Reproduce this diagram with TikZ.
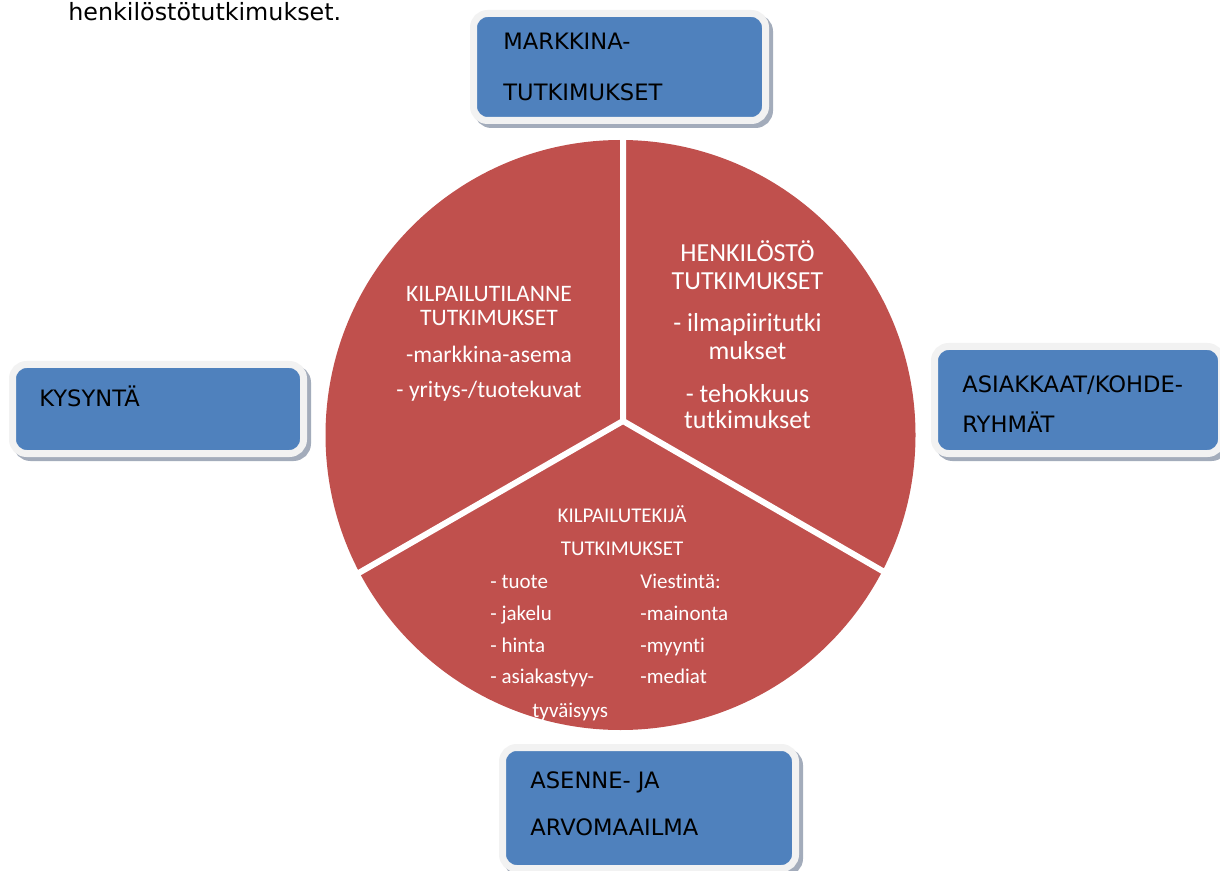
\documentclass[tikz,border=0pt]{standalone}
\usepackage{fontspec}
\setmainfont{DejaVu Sans}
\newfontfamily\carlito[Ligatures=NoCommon]{Carlito}
\usepackage{xcolor}
\usetikzlibrary{shadows,positioning}

\definecolor{boxblue}{HTML}{4F81BD}
\definecolor{piered}{HTML}{C0504D}
\definecolor{framegray}{HTML}{F2F2F2}
\definecolor{shadowgray}{HTML}{A3ACBB}

\begin{document}
\begin{tikzpicture}[x=0.5pt, y=-0.5pt,
    % ---- styles ----
    L/.style={draw=framegray, fill=boxblue, line width=3.5pt,
              rounded corners=7pt, inner sep=0pt,
              drop shadow={shadow xshift=2pt, shadow yshift=-2pt,
                           fill=shadowgray, draw=shadowgray,
                           line width=3.5pt, opacity=1}},
    BT/.style={anchor=base west, inner sep=0pt, text=black,
               font=\fontsize{11.3}{13}\selectfont},
    PT/.style={anchor=base, inner sep=0pt, text=white},
    PL/.style={anchor=base west, inner sep=0pt, text=white,
               font=\carlito\fontsize{10.5}{12}\selectfont},
    CUT/.style={draw=white, line width=3pt},
]
\useasboundingbox (0,0) rectangle (1220,871);

% ===== Heading line =====
\node[BT, font=\fontsize{11.9}{14}\selectfont] (otsikko) at (68,21) {henkilöstötutkimukset.};

% ===== Pie =====
\node[circle, fill=piered, inner sep=0pt, minimum size=295pt] (pie) at (620.5,435) {};
\coordinate (c0)  at (623,421);
\coordinate (cN)  at (623,138);
\coordinate (cSW) at (350,578);
\coordinate (cSE) at (886,573);
\draw[CUT] (cN) -- (c0) -- (cSW) (c0) -- (cSE);

% Kilpailutilanne slice
\foreach \t/\y [count=\i] in {KILPAILUTILANNE/302, TUTKIMUKSET/326,
                              -markkina-asema/363, {- yritys-/tuotekuvat}/398}
    \node[PT, font=\carlito\fontsize{11.8}{14}\selectfont] (kt\i) at (489,\y) {\t};

% Henkilosto slice
\foreach \t/\y [count=\i] in {HENKILÖSTÖ/262, TUTKIMUKSET/290, - ilmapiiritutki/332,
                              mukset/360, - tehokkuus/402, tutkimukset/429}
    \node[PT, font=\carlito\fontsize{13}{15}\selectfont] (ht\i) at (747.5,\y) {\t};

% Kilpailutekija slice
\node[PT, font=\carlito\fontsize{10.5}{12}\selectfont] (ke1) at (622,522) {KILPAILUTEKIJÄ};
\node[PT, font=\carlito\fontsize{10.5}{12}\selectfont] (ke2) at (622,555) {TUTKIMUKSET};
\foreach \t/\y [count=\i] in {- tuote/588, - jakelu/620, - hinta/652, - asiakastyy-/683}
    \node[PL] (kv\i) at (490,\y) {\t};
\node[PL] (kv5) at (532,717) {tyväisyys};
\foreach \t/\y [count=\i] in {Viestintä:/588, -mainonta/620, -myynti/652, -mediat/683}
    \node[PL] (ko\i) at (640,\y) {\t};

% ===== Boxes =====
\node[L, minimum width=146pt, minimum height=53.5pt] (markkina) at (619.5,67) {};
\node[BT] (mt1) at (503,50)  {MARKKINA-};
\node[BT] (mt2) at (503,101) {TUTKIMUKSET};

\node[L, minimum width=145.5pt, minimum height=44.5pt] (kysynta) at (158,409) {};
\node[BT] (ky1) at (39,407) {KYSYNTÄ};

\node[L, minimum width=143.5pt, minimum height=53.5pt] (asiakkaat) at (1078,400) {};
\node[BT] (as1) at (962,393) {ASIAKKAAT/KOHDE-};
\node[BT] (as2) at (962,432) {RYHMÄT};

\node[L, minimum width=146.5pt, minimum height=60.5pt] (asenne) at (649,808) {};
\node[BT] (ar1) at (530,788) {ASENNE- JA};
\node[BT] (ar2) at (530,835) {ARVOMAAILMA};

\end{tikzpicture}
\end{document}
